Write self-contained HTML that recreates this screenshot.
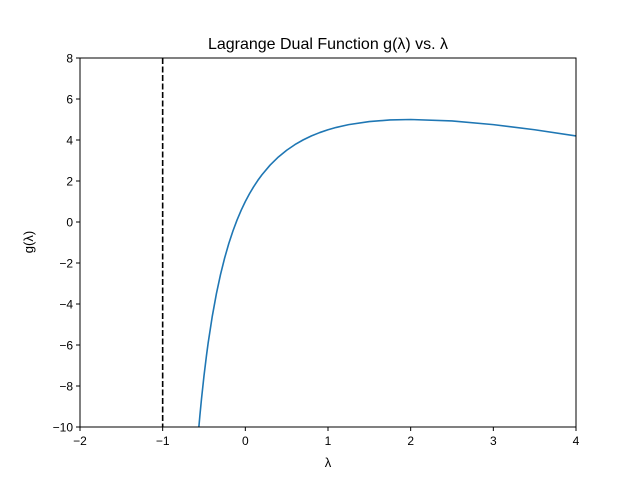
<!DOCTYPE html>
<html><head><meta charset="utf-8"><style>
body{margin:0;background:#fff}
svg text{font-family:"Liberation Sans","DejaVu Sans",sans-serif;fill:#000}
</style></head><body>
<svg id="chart" width="640" height="480" xmlns="http://www.w3.org/2000/svg">
<rect width="640" height="480" fill="#fff"/>
<text x="328" y="49" text-anchor="middle" font-size="16">Lagrange Dual Function g(λ) vs. λ</text>
<defs><clipPath id="clip"><rect x="80" y="58" width="496" height="369"/></clipPath></defs>
<g id="plot" clip-path="url(#clip)"></g>
<g id="axes"></g>
<rect x="80" y="58" width="496" height="369" fill="none" stroke="#000" stroke-width="1"/>
<text x="328" y="467" text-anchor="middle" font-size="13">λ</text>
<text transform="translate(33,242) rotate(-90)" text-anchor="middle" font-size="13">g(λ)</text>
</svg>
<script>
const lambdas=[-0.57,-0.55,-0.53,-0.5,-0.47,-0.45,-0.4,-0.35,-0.3,-0.25,-0.2,-0.15,-0.1,-0.05,0,0.05,0.1,0.15,0.2,0.3,0.4,0.5,0.6,0.7,0.8,0.9,1,1.1,1.25,1.5,1.75,2,2.5,3,3.5,4];
const gValues=[-10.36,-9.45,-8.619,-7.5,-6.511,-5.91,-4.6,-3.496,-2.557,-1.75,-1.05,-0.438,0.1,0.576,1,1.379,1.718,2.024,2.3,2.777,3.171,3.5,3.775,4.006,4.2,4.363,4.5,4.614,4.75,4.9,4.977,5,4.929,4.75,4.5,4.2];
const xTicks=[-2,-1,0,1,2,3,4];
const yTicks=[-10,-8,-6,-4,-2,0,2,4,6,8];
const asymptote=[-1];
const NS="http://www.w3.org/2000/svg";
const X=v=>80+(v+2)/6*496, Y=v=>427-(v+10)/18*369;
const plot=document.getElementById('plot'), axes=document.getElementById('axes');
function mk(tag,attrs,parent){const e=document.createElementNS(NS,tag);for(const k in attrs)e.setAttribute(k,attrs[k]);parent.appendChild(e);return e;}
const d=lambdas.map((l,i)=>(i?'L':'M')+X(l).toFixed(2)+','+Y(gValues[i]).toFixed(2)).join('');
const path=mk('path',{d:d,fill:'none',stroke:'#1f77b4','stroke-width':1.6,'stroke-linejoin':'round'},plot);


asymptote.forEach(a=>{const l=mk('line',{x1:X(a),x2:X(a),y1:58,y2:427,stroke:'#000','stroke-width':1.6,'stroke-dasharray':'6,2.5'},plot);

});
xTicks.forEach(t=>{mk('line',{x1:X(t),x2:X(t),y1:427,y2:431,stroke:'#000'},axes);
const tx=mk('text',{x:X(t),y:445,'text-anchor':'middle','font-size':12},axes);tx.textContent=(t<0?'−'+(-t):t);

});
yTicks.forEach(t=>{mk('line',{x1:76,x2:80,y1:Y(t),y2:Y(t),stroke:'#000'},axes);
const tx=mk('text',{x:73,y:Y(t)+4.5,'text-anchor':'end','font-size':12},axes);tx.textContent=(t<0?'−'+(-t):t);

});
</script>
</body></html>
